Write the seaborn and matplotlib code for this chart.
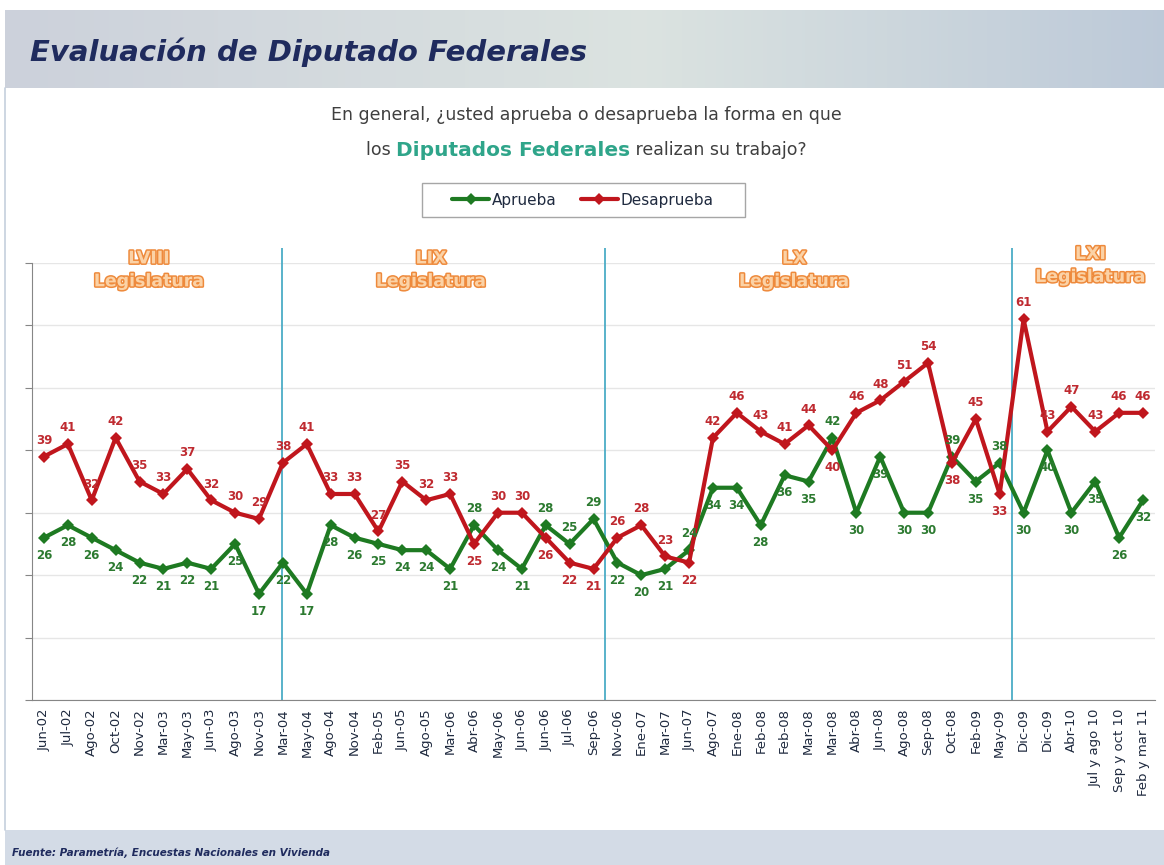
import matplotlib
matplotlib.use('Agg')
import matplotlib.pyplot as plt
import matplotlib.patheffects as pe
from matplotlib.patches import Rectangle
import numpy as np
import pandas as pd
import seaborn as sns

fechas = ['Jun-02', 'Jul-02', 'Ago-02', 'Oct-02', 'Nov-02', 'Mar-03', 'May-03', 'Jun-03',
          'Ago-03', 'Nov-03', 'Mar-04', 'May-04', 'Ago-04', 'Nov-04', 'Feb-05', 'Jun-05',
          'Ago-05', 'Mar-06', 'Abr-06', 'May-06', 'Jun-06', 'Jun-06', 'Jul-06', 'Sep-06',
          'Nov-06', 'Ene-07', 'Mar-07', 'Jun-07', 'Ago-07', 'Ene-08', 'Feb-08', 'Feb-08',
          'Mar-08', 'Mar-08', 'Abr-08', 'Jun-08', 'Ago-08', 'Sep-08', 'Oct-08', 'Feb-09',
          'May-09', 'Dic-09', 'Dic-09', 'Abr-10', 'Jul y ago 10', 'Sep y oct 10', 'Feb y mar 11']

aprueba = [26, 28, 26, 24, 22, 21, 22, 21, 25, 17, 22, 17, 28, 26, 25, 24, 24, 21, 28, 24,
           21, 28, 25, 29, 22, 20, 21, 24, 34, 34, 28, 36, 35, 42, 30, 39, 30, 30, 39, 35,
           38, 30, 40, 30, 35, 26, 32]

desaprueba = [39, 41, 32, 42, 35, 33, 37, 32, 30, 29, 38, 41, 33, 33, 27, 35, 32, 33, 25, 30,
              30, 26, 22, 21, 26, 28, 23, 22, 42, 46, 43, 41, 44, 40, 46, 48, 51, 54, 38, 45,
              33, 61, 43, 47, 43, 46, 46]

legislaturas = ['LVIII\nLegislatura', 'LIX\nLegislatura', 'LX\nLegislatura', 'LXI\nLegislatura']

verde = '#1E7A22'
rojo = '#C0161D'
navy = '#1F2B5E'

n = len(fechas)
df = pd.DataFrame({
    'pos': list(range(n)) * 2,
    'valor': aprueba + desaprueba,
    'serie': ['Aprueba'] * n + ['Desaprueba'] * n,
})

sns.set_style('white')
plt.rcParams['font.family'] = ['DejaVu Sans']

fig = plt.figure(figsize=(11.64, 8.65), dpi=100)
W, H = 1164, 865

# banner
ban = fig.add_axes([0.004, (H - 88) / H, 0.996, 78 / H])
grad = np.linspace(0, 1, 300)
c1 = np.array([0.80, 0.82, 0.86])
c2 = np.array([0.86, 0.89, 0.88])
c3 = np.array([0.74, 0.79, 0.85])
img = np.where(grad[:, None] < 0.55,
               c1 + (c2 - c1) * (grad[:, None] / 0.55),
               c2 + (c3 - c2) * ((grad[:, None] - 0.55) / 0.45))
ban.imshow(img[None, :, :], aspect='auto', extent=[0, 1, 0, 1])
ban.axis('off')
fig.text(30 / W, (H - 52) / H, 'Evaluación de Diputado Federales', fontsize=21,
         fontstyle='italic', fontweight='bold', color=navy, va='center', ha='left')

# footer band
fig.patches.append(Rectangle((0.004, 0), 0.996, 35 / H, transform=fig.transFigure,
                             facecolor='#D3DBE6', edgecolor='none', zorder=0))
fig.text(12 / W, (H - 853) / H, 'Fuente: Parametría, Encuestas Nacionales en Vivienda',
         fontsize=7.5, fontstyle='italic', fontweight='bold', color=navy, va='center')
fig.add_artist(plt.Line2D([0.004, 0.004], [35 / H, (H - 88) / H], transform=fig.transFigure,
                          color='#C5CFDD', lw=1.2))

# question
fig.text(586 / W, (H - 115) / H, 'En general, ¿usted aprueba o desaprueba la forma en que',
         fontsize=12.5, color='#3F3F3F', ha='center', va='center')
partes = [('los ', '#3F3F3F', 12.5, 'normal'),
          ('Diputados Federales', '#2FA58A', 14.5, 'bold'),
          (' realizan su trabajo?', '#3F3F3F', 12.5, 'normal')]
textos = [fig.text(0, (H - 150) / H, s, color=c, fontsize=fs, fontweight=fw, va='center',
                   ha='left') for s, c, fs, fw in partes]
fig.canvas.draw()
r = fig.canvas.get_renderer()
anchos = [t.get_window_extent(r).width for t in textos]
x0 = 586 - sum(anchos) / 2
for t, w in zip(textos, anchos):
    t.set_x(x0 / W)
    x0 += w

# chart
ax = fig.add_axes([32 / W, (H - 700) / H, (1155 - 32) / W, (700 - 263) / H])
sns.lineplot(data=df, x='pos', y='valor', hue='serie', style='serie',
             palette={'Aprueba': verde, 'Desaprueba': rojo},
             markers={'Aprueba': 'D', 'Desaprueba': 'D'}, dashes=False,
             linewidth=3, markersize=6, markeredgewidth=0, ax=ax)

ax.set_xlim(-0.5, n - 0.5)
ax.set_ylim(0, 70)
ax.set_yticks(range(0, 71, 10))
ax.set_yticklabels([])
ax.set_xticks(range(n))
ax.set_xticklabels(fechas, rotation=90, fontsize=9.5, color='#1F2A3F')
ax.set_xticks(np.arange(-0.5, n, 1), minor=True)
ax.tick_params(axis='x', which='major', length=0, pad=6)
ax.tick_params(axis='x', which='minor', length=5, color='#868686', direction='out')
ax.tick_params(axis='y', length=5, color='#868686', direction='out', left=True)
ax.set_xlabel('')
ax.set_ylabel('')
ax.yaxis.grid(True, color='#E6E6E6', lw=1)
for s in ['top', 'right']:
    ax.spines[s].set_visible(False)
for s in ['left', 'bottom']:
    ax.spines[s].set_color('#868686')

# data labels
for i in range(n):
    a, d = aprueba[i], desaprueba[i]
    arriba_a = a > d
    ax.annotate(str(d), (i, d), xytext=(0, -8 if arriba_a else 7), textcoords='offset points',
                ha='center', va='top' if arriba_a else 'bottom', fontsize=8.5,
                fontweight='bold', color='#BF2A30')
    ax.annotate(str(a), (i, a), xytext=(0, 7 if arriba_a else -8), textcoords='offset points',
                ha='center', va='bottom' if arriba_a else 'top', fontsize=8.5,
                fontweight='bold', color='#2C7A30')

# legislature separators and labels
ax.vlines([9.95, 23.5, 40.5], 0, 72.4, color='#4BACC6', lw=1.3, clip_on=False, zorder=1)
for txt, x, y in zip(legislaturas, [4.4, 16.2, 31.4, 43.8], [68.9, 68.9, 68.9, 69.6]):
    ax.text(x, y, txt, ha='center', va='center', fontsize=12.5, fontweight='bold',
            color='#FBD2A6', linespacing=1.35, clip_on=False,
            path_effects=[pe.Stroke(linewidth=2.2, foreground='#EE8A3C'), pe.Normal()])

# legend
handles, labels = ax.get_legend_handles_labels()
ax.get_legend().remove()
fig.legend(handles, labels, loc='center', bbox_to_anchor=(583 / W, (H - 200) / H), ncol=2,
           frameon=False, fontsize=11, handlelength=2.4, handletextpad=0.2, columnspacing=1.6,
           labelcolor='#1F2A3F')
fig.patches.append(Rectangle((422 / W, (H - 217) / H), 323 / W, 34 / H, transform=fig.transFigure,
                             facecolor='none', edgecolor='#A6A6A6', lw=1))

fig.savefig('out.png', dpi=100)
